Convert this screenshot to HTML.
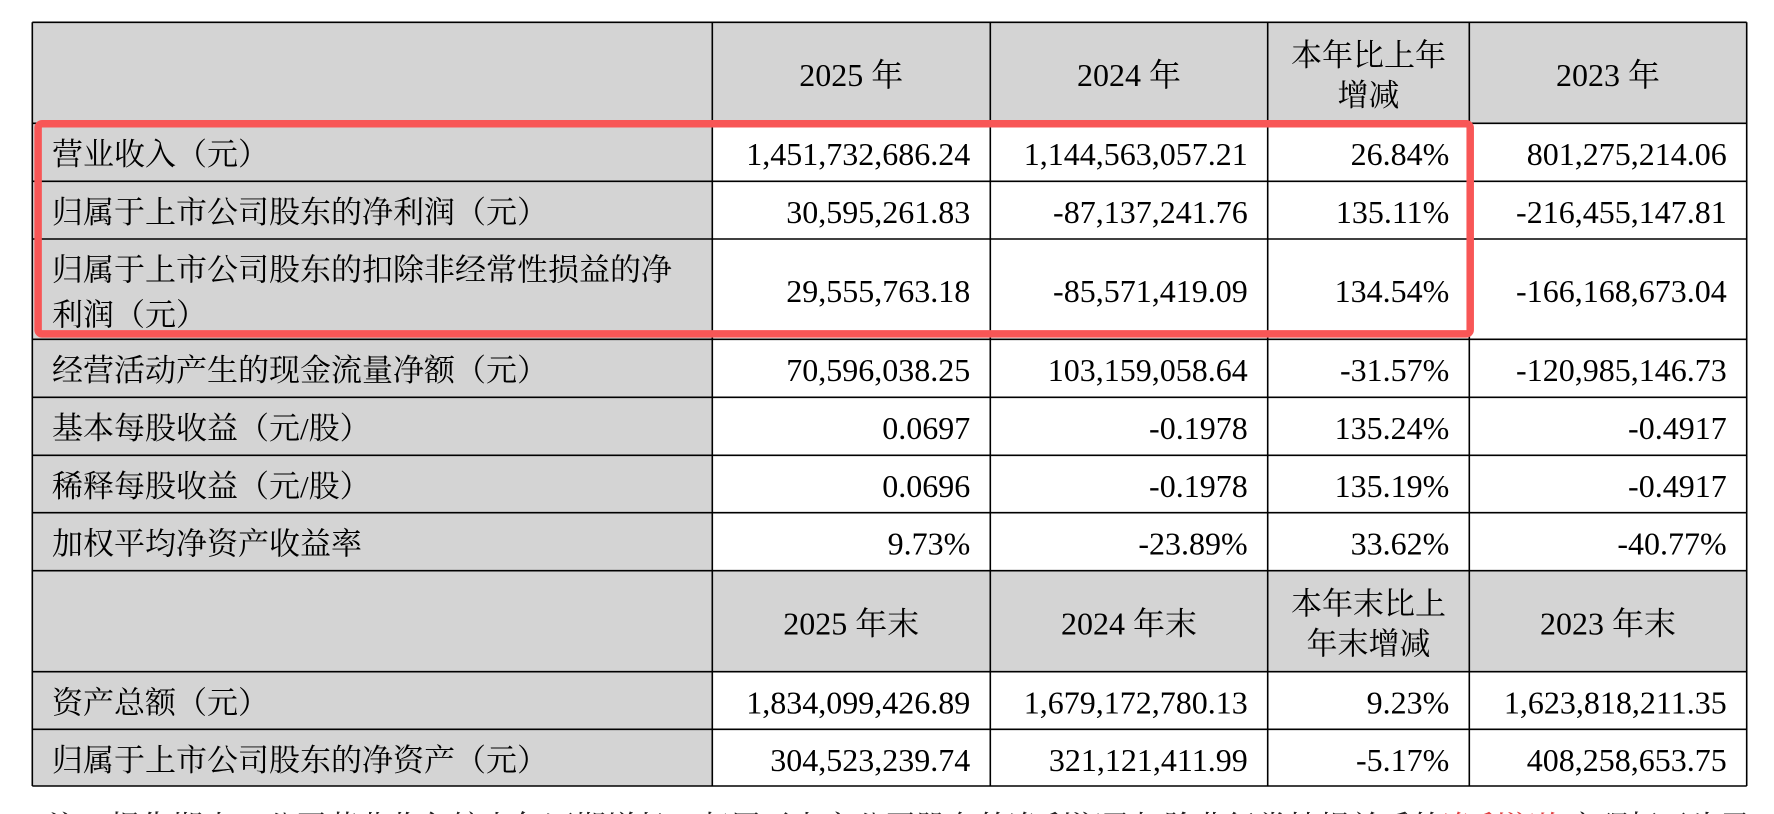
<!DOCTYPE html>
<html>
<head>
<meta charset="utf-8">
<style>
  html, body { margin:0; padding:0; background:#fff; }
  body { width:1774px; height:814px; overflow:hidden; }
  svg { display:block; }
  text { font-family: "Liberation Serif", "Noto Serif CJK SC", serif; fill:#000; }
  .n { font-size:32px; text-anchor:end; }
  .h { font-size:32px; text-anchor:middle; }
  .l { font-size:31px; }
</style>
</head>
<body>
<svg width="1774" height="814" viewBox="0 0 1774 814" xmlns="http://www.w3.org/2000/svg">
  <rect x="0" y="0" width="1774" height="814" fill="#fff"/>
  <!-- gray backgrounds -->
  <rect x="32.3" y="22.3" width="1714.4" height="101" fill="#d4d4d4"/>
  <rect x="32.3" y="123.3" width="680" height="662.7" fill="#d4d4d4"/>
  <rect x="32.3" y="570.7" width="1714.4" height="101" fill="#d4d4d4"/>

  <!-- grid lines -->
  <g stroke="#000" stroke-width="1.6">
    <line x1="32.3" y1="22.3" x2="1746.7" y2="22.3"/>
    <line x1="32.3" y1="123.3" x2="1746.7" y2="123.3"/>
    <line x1="32.3" y1="181.3" x2="1746.7" y2="181.3"/>
    <line x1="32.3" y1="239" x2="1746.7" y2="239"/>
    <line x1="32.3" y1="339.3" x2="1746.7" y2="339.3"/>
    <line x1="32.3" y1="397.3" x2="1746.7" y2="397.3"/>
    <line x1="32.3" y1="455.3" x2="1746.7" y2="455.3"/>
    <line x1="32.3" y1="512.7" x2="1746.7" y2="512.7"/>
    <line x1="32.3" y1="570.7" x2="1746.7" y2="570.7"/>
    <line x1="32.3" y1="671.7" x2="1746.7" y2="671.7"/>
    <line x1="32.3" y1="729.3" x2="1746.7" y2="729.3"/>
    <line x1="32.3" y1="786" x2="1746.7" y2="786"/>

    <line x1="32.3" y1="22.3" x2="32.3" y2="786"/>
    <line x1="712.3" y1="22.3" x2="712.3" y2="786"/>
    <line x1="990.3" y1="22.3" x2="990.3" y2="786"/>
    <line x1="1267.7" y1="22.3" x2="1267.7" y2="786"/>
    <line x1="1469.3" y1="22.3" x2="1469.3" y2="786"/>
    <line x1="1746.7" y1="22.3" x2="1746.7" y2="786"/>
  </g>

  <!-- header 1 -->
  <text class="h" x="851.3" y="86">2025 年</text>
  <text class="h" x="1129" y="86">2024 年</text>
  <text class="h" x="1368.5" y="66" style="font-size:31px">本年比上年</text>
  <text class="h" x="1368.5" y="106" style="font-size:31px">增减</text>
  <text class="h" x="1608" y="86">2023 年</text>

  <!-- row A -->
  <text class="l" x="52" y="165">营业收入（元）</text>
  <text class="n" x="970.3" y="165">1,451,732,686.24</text>
  <text class="n" x="1247.7" y="165">1,144,563,057.21</text>
  <text class="n" x="1449.3" y="165">26.84%</text>
  <text class="n" x="1726.7" y="165">801,275,214.06</text>

  <!-- row B -->
  <text class="l" x="52" y="223">归属于上市公司股东的净利润（元）</text>
  <text class="n" x="970.3" y="223">30,595,261.83</text>
  <text class="n" x="1247.7" y="223">-87,137,241.76</text>
  <text class="n" x="1449.3" y="223">135.11%</text>
  <text class="n" x="1726.7" y="223">-216,455,147.81</text>

  <!-- row C (tall) -->
  <text class="l" x="52" y="280.5">归属于上市公司股东的扣除非经常性损益的净</text>
  <text class="l" x="52" y="325.5">利润（元）</text>
  <text class="n" x="970.3" y="302">29,555,763.18</text>
  <text class="n" x="1247.7" y="302">-85,571,419.09</text>
  <text class="n" x="1449.3" y="302">134.54%</text>
  <text class="n" x="1726.7" y="302">-166,168,673.04</text>

  <!-- row D -->
  <text class="l" x="52" y="381">经营活动产生的现金流量净额（元）</text>
  <text class="n" x="970.3" y="381">70,596,038.25</text>
  <text class="n" x="1247.7" y="381">103,159,058.64</text>
  <text class="n" x="1449.3" y="381">-31.57%</text>
  <text class="n" x="1726.7" y="381">-120,985,146.73</text>

  <!-- row E -->
  <text class="l" x="52" y="439">基本每股收益（元/股）</text>
  <text class="n" x="970.3" y="439">0.0697</text>
  <text class="n" x="1247.7" y="439">-0.1978</text>
  <text class="n" x="1449.3" y="439">135.24%</text>
  <text class="n" x="1726.7" y="439">-0.4917</text>

  <!-- row F -->
  <text class="l" x="52" y="497">稀释每股收益（元/股）</text>
  <text class="n" x="970.3" y="497">0.0696</text>
  <text class="n" x="1247.7" y="497">-0.1978</text>
  <text class="n" x="1449.3" y="497">135.19%</text>
  <text class="n" x="1726.7" y="497">-0.4917</text>

  <!-- row G -->
  <text class="l" x="52" y="554.4">加权平均净资产收益率</text>
  <text class="n" x="970.3" y="554.4">9.73%</text>
  <text class="n" x="1247.7" y="554.4">-23.89%</text>
  <text class="n" x="1449.3" y="554.4">33.62%</text>
  <text class="n" x="1726.7" y="554.4">-40.77%</text>

  <!-- header 2 -->
  <text class="h" x="851.3" y="634.4">2025 年末</text>
  <text class="h" x="1129" y="634.4">2024 年末</text>
  <text class="h" x="1368.5" y="614.4" style="font-size:31px">本年末比上</text>
  <text class="h" x="1368.5" y="654.4" style="font-size:31px">年末增减</text>
  <text class="h" x="1608" y="634.4">2023 年末</text>

  <!-- row H -->
  <text class="l" x="52" y="713.4">资产总额（元）</text>
  <text class="n" x="970.3" y="713.4">1,834,099,426.89</text>
  <text class="n" x="1247.7" y="713.4">1,679,172,780.13</text>
  <text class="n" x="1449.3" y="713.4">9.23%</text>
  <text class="n" x="1726.7" y="713.4">1,623,818,211.35</text>

  <!-- row I -->
  <text class="l" x="52" y="771">归属于上市公司股东的净资产（元）</text>
  <text class="n" x="970.3" y="771">304,523,239.74</text>
  <text class="n" x="1247.7" y="771">321,121,411.99</text>
  <text class="n" x="1449.3" y="771">-5.17%</text>
  <text class="n" x="1726.7" y="771">408,258,653.75</text>

  <!-- red highlight box -->
  <rect x="38.1" y="123.8" width="1432.1" height="210.1" rx="4" ry="4" fill="none" stroke="#f85656" stroke-width="7.5"/>

  <!-- cut-off text line at bottom -->
  <text class="l" x="48" y="838" style="fill:#222">注：报告期内，公司营业收入较上年同期增长，归属于上市公司股东的净利润及扣除非经常性损益后的<tspan style="fill:#e04040">净利润均</tspan>实现扭亏为盈。</text>
</svg>
</body>
</html>
